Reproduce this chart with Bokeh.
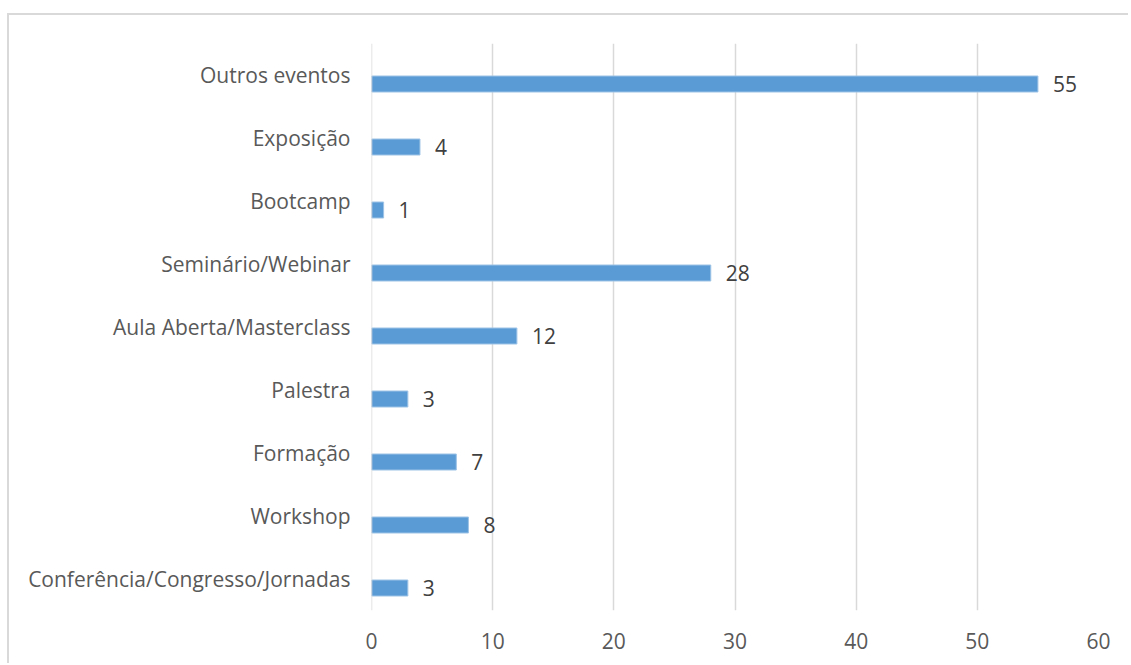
from bokeh.plotting import figure
from bokeh.models import FactorRange, FixedTicker, ColumnDataSource, LabelSet, Span
from bokeh.transform import dodge
from bokeh.core.properties import value
from bokeh.embed import file_html
from bokeh.resources import INLINE

categories = ["Outros eventos", "Exposição", "Bootcamp", "Seminário/Webinar",
              "Aula Aberta/Masterclass", "Palestra", "Formação", "Workshop",
              "Conferência/Congresso/Jornadas"]
values = [55, 4, 1, 28, 12, 3, 7, 8, 3]
x_ticks = [0, 10, 20, 30, 40, 50, 60]

FONT = "Open Sans"

source = ColumnDataSource(data=dict(cat=categories, val=values,
                                    lbl=[str(v) for v in values]))

p = figure(
    width=1121, height=650,
    y_range=FactorRange(*reversed(categories), range_padding=0),
    x_range=(x_ticks[0], x_ticks[-1]),
    output_backend="svg", toolbar_location=None,
    min_border_left=362, min_border_right=32,
    min_border_top=28, min_border_bottom=55,
    margin=(13, 0, 0, 7),
)
p.styles = {"border-top": "2px solid #d9d9d9", "border-left": "2px solid #d9d9d9"}
p.outline_line_color = None
p.background_fill_color = "white"
p.border_fill_color = "white"

p.hbar(y=dodge("cat", -0.143, range=p.y_range), right="val", left=0, height=0.254,
       source=source, fill_color="#5B9BD5", line_color="#9DC3E6", line_width=1)

labels = LabelSet(x="val", y=dodge("cat", -0.143, range=p.y_range), text="lbl",
                  source=source, x_offset=15, text_align="left",
                  text_baseline="middle", text_font=value(FONT),
                  text_font_size="21px", text_color="#404040")
p.add_layout(labels)

p.add_layout(Span(location=x_ticks[0], dimension="height",
                  line_color="#d9d9d9", line_width=1.5), "below")

p.xaxis.ticker = FixedTicker(ticks=x_ticks)
p.xaxis.axis_line_color = None
p.xaxis.major_tick_line_color = None
p.xaxis.minor_tick_line_color = None
p.xaxis.major_label_standoff = 16
p.xaxis.major_label_text_font = FONT
p.xaxis.major_label_text_font_size = "21px"
p.xaxis.major_label_text_color = "#595959"

p.yaxis.axis_line_color = None
p.yaxis.major_tick_line_color = None
p.yaxis.minor_tick_line_color = None
p.yaxis.major_label_standoff = 15
p.yaxis.major_label_text_font = FONT
p.yaxis.major_label_text_font_size = "21px"
p.yaxis.major_label_text_color = "#595959"

p.xgrid.ticker = FixedTicker(ticks=x_ticks)
p.xgrid.grid_line_color = "#d9d9d9"
p.xgrid.grid_line_width = 1.5
p.ygrid.grid_line_color = None

open("out.html", "w").write(file_html(p, INLINE))
